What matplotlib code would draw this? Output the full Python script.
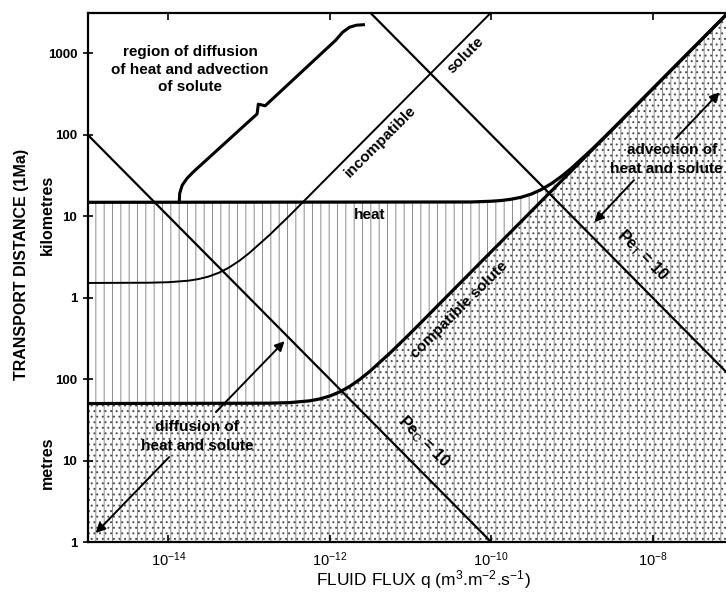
import matplotlib
matplotlib.use("Agg")
import matplotlib.pyplot as plt
from matplotlib.ticker import FixedLocator, NullLocator
import numpy as np

plt.rcParams['font.family'] = ['Liberation Sans', 'DejaVu Sans']
plt.rcParams['mathtext.fontset'] = 'custom'
plt.rcParams['mathtext.rm'] = 'Liberation Sans'
plt.rcParams['mathtext.it'] = 'Liberation Sans:italic'
plt.rcParams['mathtext.bf'] = 'Liberation Sans:bold'
plt.rcParams['hatch.linewidth'] = 0.7

# values, as log10(q [m/s]) and log10(L [m])
heat_logq = [-15, -10.25, -10.0, -9.875, -9.75, -9.625, -9.5, -9.375, -9.25,
             -9.125, -9.0, -8.75, -8.5, -7.0]
heat_logL = [4.17, 4.174, 4.183, 4.192, 4.208, 4.233, 4.272, 4.328, 4.402,
             4.491, 4.593, 4.821, 5.064, 6.56]

compat_logq = [-15, -12.75, -12.5, -12.25, -12.125, -12.0, -11.875, -11.75,
               -11.625, -11.5, -11.25, -11.0, -7.0]
compat_logL = [1.70, 1.704, 1.711, 1.733, 1.756, 1.792, 1.843, 1.912,
               1.998, 2.098, 2.323, 2.564, 6.56]

incompat_logq = [-15, -14.25, -14.0, -13.75, -13.625, -13.5, -13.375, -13.25,
                 -13.125, -13.0, -12.75, -12.5, -9.9]
incompat_logL = [3.18, 3.183, 3.189, 3.208, 3.228, 3.259, 3.305, 3.368,
                 3.449, 3.545, 3.765, 4.005, 6.6]

peC_logq = [-15.0, -10.0]
peC_logL = [5.0, 0.0]
peT_logq = [-11.55, -7.0]
peT_logL = [6.55, 2.0]

# bracket round "region of diffusion of heat and advection of solute"
bracket_logq = [-13.865, -13.859, -13.828, -13.767, -13.681, -12.90, -12.885,
                -12.80, -11.926, -11.840, -11.755, -11.669, -11.583]
bracket_logL = [4.172, 4.282, 4.380, 4.466, 4.552, 5.255, 5.375,
                5.355, 6.160, 6.258, 6.319, 6.344, 6.350]

# arrows: (tail, head) in log10 units
arrows = [
    ((-13.41, 1.595), (-12.56, 2.466)),
    ((-13.99, 1.043), (-14.90, 0.11)),
    ((-7.71, 4.957), (-7.17, 5.52)),
    ((-8.23, 4.442), (-8.72, 3.926)),
]

ytick_vals = [1, 10, 100, 1e3, 1e4, 1e5, 1e6]
ytick_labels = ['1', '10', '100', '1', '10', '100', '1000']
xtick_vals = [1e-14, 1e-12, 1e-10, 1e-8]
xtick_labels = [r'$10^{-14}$', r'$10^{-12}$', r'$10^{-10}$', r'$10^{-8}$']


def p(v):
    return 10.0 ** np.array(v)


fig = plt.figure(figsize=(7.26, 5.94), dpi=100)
ax = fig.add_axes([0.1207, 0.0875, 0.8893, 0.8901])
ax.set_xscale('log')
ax.set_yscale('log')
ax.set_xlim(1e-15, 1e-7)
ax.set_ylim(1, 10 ** 6.49)

# shading
ax.fill_between(p(heat_logq), 0.3, p(heat_logL), facecolor='none',
                edgecolor='0.55', hatch='||', linewidth=0, zorder=1)
ax.fill_between(p(compat_logq), 0.3, p(compat_logL), facecolor='none',
                edgecolor='0.3', hatch='...', linewidth=0, zorder=1)

# lines
ax.plot(p(heat_logq), p(heat_logL), color='black', lw=2.3, zorder=3)
ax.plot(p(compat_logq), p(compat_logL), color='black', lw=2.3, zorder=3)
ax.plot(p(incompat_logq), p(incompat_logL), color='black', lw=1.4, zorder=3)
ax.plot(p(peC_logq), p(peC_logL), color='black', lw=1.6, zorder=3)
ax.plot(p(peT_logq), p(peT_logL), color='black', lw=1.6, zorder=3)
ax.plot(p(bracket_logq), p(bracket_logL), color='black', lw=2.2, zorder=3)

for tail, head in arrows:
    ax.annotate('', xy=(10 ** head[0], 10 ** head[1]),
                xytext=(10 ** tail[0], 10 ** tail[1]),
                arrowprops=dict(arrowstyle='-|>', color='black', lw=1.4,
                                mutation_scale=14, shrinkA=0, shrinkB=0),
                zorder=4)

# labels inside the plot
kw = dict(fontsize=11, fontweight='bold', ha='center', va='center', zorder=5)
ax.text(10 ** -13.73, 10 ** 5.80, 'region of diffusion\nof heat and advection\nof solute',
        linespacing=1.3, **kw)
ax.text(10 ** -11.37, 10 ** 4.92, 'incompatible', rotation=45,
        rotation_mode='anchor', **kw)
ax.text(10 ** -10.32, 10 ** 5.975, 'solute', rotation=45,
        rotation_mode='anchor', **kw)
ax.text(10 ** -11.50, 10 ** 4.012, 'heat', **kw)
ax.text(10 ** -10.40, 10 ** 2.847, 'compatible solute', rotation=45,
        rotation_mode='anchor', **kw)
ax.text(10 ** -13.64, 10 ** 1.29, 'diffusion of\nheat and solute',
        linespacing=1.45, **kw)
ax.text(10 ** -8.32, 10 ** 4.81, 'advection of', fontsize=11,
        fontweight='bold', ha='left', va='center', zorder=5)
ax.text(10 ** -8.53, 10 ** 4.577, 'heat and solute', fontsize=11,
        fontweight='bold', ha='left', va='center', zorder=5)
ax.text(10 ** -8.13, 10 ** 3.524, r'Pe$_\mathrm{T}$ = 10', rotation=-45,
        rotation_mode='anchor', fontsize=11.5, fontweight='bold',
        ha='center', va='center', zorder=5)
ax.text(10 ** -10.83, 10 ** 1.228, r'Pe$_\mathrm{C}$ = 10', rotation=-45,
        rotation_mode='anchor', fontsize=11.5, fontweight='bold',
        ha='center', va='center', zorder=5)

# axes and ticks
ax.xaxis.set_major_locator(FixedLocator(xtick_vals))
ax.set_xticklabels(xtick_labels)
ax.yaxis.set_major_locator(FixedLocator(ytick_vals))
ax.set_yticklabels(ytick_labels)
ax.xaxis.set_minor_locator(NullLocator())
ax.yaxis.set_minor_locator(NullLocator())
ax.tick_params(axis='x', direction='in', top=True, length=5, width=1.2,
               labelsize=10.5, pad=6)
ax.tick_params(axis='y', direction='inout', length=7, width=1.2,
               labelsize=9.5, pad=4)
for lbl in ax.get_yticklabels():
    lbl.set_fontweight('bold')
for s in ['left', 'top', 'bottom']:
    ax.spines[s].set_linewidth(1.6)
ax.spines['right'].set_visible(False)

fig.text(423 / 726, 1 - 580 / 594, r'FLUID FLUX q (m$^3$.m$^{-2}$.s$^{-1}$)',
         fontsize=12.5, ha='center', va='center')
fig.text(22 / 726, 1 - 264 / 594, 'TRANSPORT DISTANCE (1Ma)', rotation=90,
         fontsize=11.5, fontweight='bold', ha='center', va='center')
fig.text(47 / 726, 1 - 215 / 594, 'kilometres', rotation=90,
         fontsize=11.5, fontweight='bold', ha='center', va='center')
fig.text(47 / 726, 1 - 463 / 594, 'metres', rotation=90,
         fontsize=11.5, fontweight='bold', ha='center', va='center')

fig.savefig('out.png', dpi=100)
